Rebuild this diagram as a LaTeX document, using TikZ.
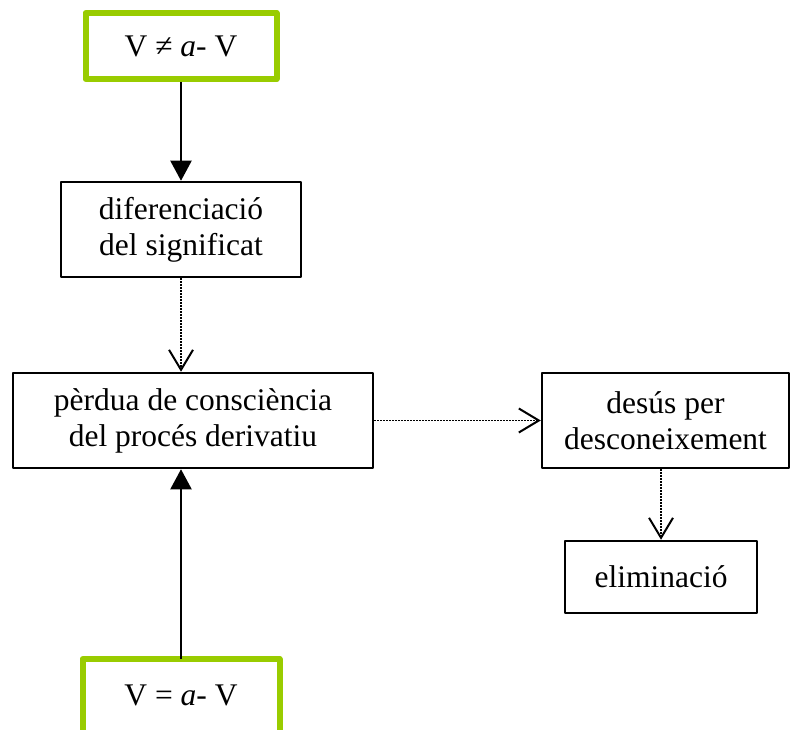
\documentclass[tikz,border=0pt]{standalone}
\usepackage{fontspec}
\setmainfont{Liberation Serif}
\usetikzlibrary{arrows.meta}
\definecolor{llima}{HTML}{99CC00}
\begin{document}
\begin{tikzpicture}[x=1pt,y=1pt,line join=round,font=\fontsize{31.5}{36}\selectfont,
    caixa/.style={draw,line width=2.5pt,align=center,inner sep=0pt},
    verda/.style={draw=llima,line width=6pt,align=center,inner sep=0pt,minimum width=191pt,minimum height=66pt},
    ple/.style={line width=2pt,-{Triangle[length=20pt,width=21pt]}},
    punts/.style={line width=1.5pt,dash pattern=on 1.5pt off 1.5pt,-{Straight Barb[length=20pt,width=24pt,line width=2pt]}}]
    \useasboundingbox (0,0) rectangle (792,729);
    \clip (0,0) rectangle (792,729);
    \node[verda] (dif) at (181,683) {V ≠ \textit{a}- V};
    \node[caixa,minimum width=240pt,minimum height=95pt] (sig) at (181,499.5) {diferenciació\\del significat};
    \node[caixa,minimum width=360pt,minimum height=95pt] (perd) at (193,308.5) {pèrdua de consciència\\del procés derivatiu};
    \node[caixa,minimum width=247pt,minimum height=95pt] (desus) at (665.5,308.5) {desús per\\desconeixement};
    \node[caixa,minimum width=192pt,minimum height=72pt] (elim) at (661,152) {eliminació};
    \node[verda,draw=none] (igual) at (181,34) {V = \textit{a}- V};
    % la caixa de baix queda tallada
    \draw[llima,line width=6pt] ([yshift=-20pt]igual.south west) |- (igual.north east) -- ([yshift=-20pt]igual.south east);

    \draw[ple] (dif.south) -- (sig.north);
    \draw[punts] (sig.south) -- (sig.south |- perd.north);
    \draw[punts] (perd.east) -- (desus.west);
    \draw[punts] (desus.south -| elim.north) -- (elim.north);
    \draw[ple] (igual.north) -- (igual.north |- perd.south);
\end{tikzpicture}
\end{document}
